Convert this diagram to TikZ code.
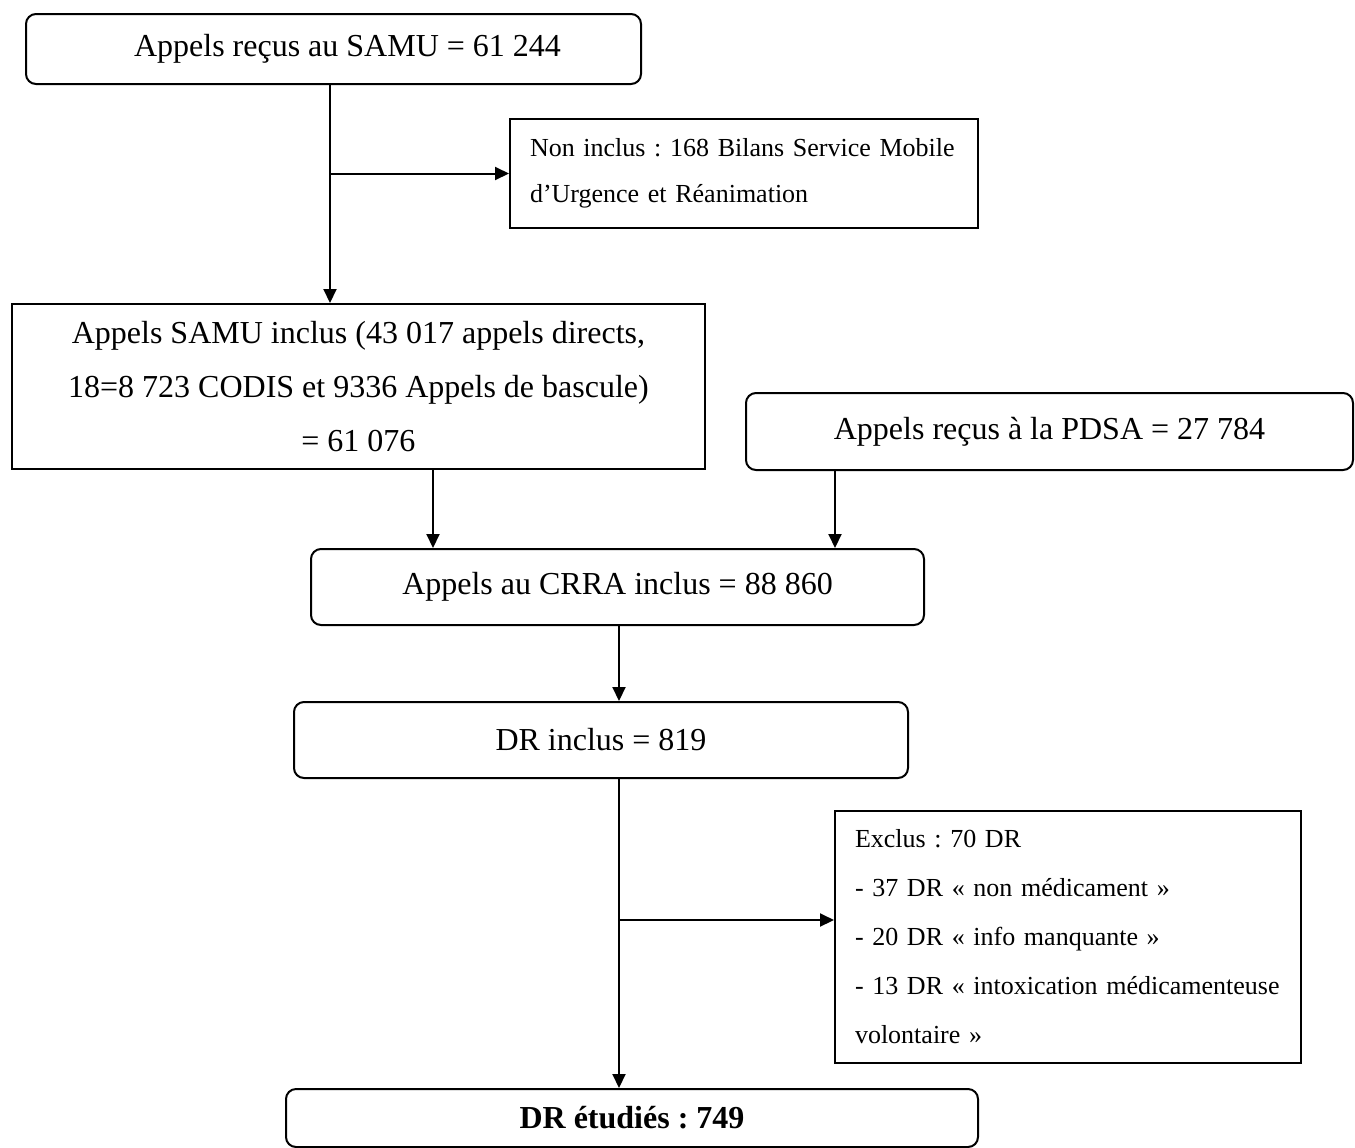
\documentclass[tikz,border=0pt]{standalone}
\usepackage{fontspec}
\setmainfont{Liberation Serif}
\usetikzlibrary{arrows.meta}
\begin{document}
\frenchspacing
\begin{tikzpicture}[x=0.5pt,y=-0.5pt,
  box/.style={draw, line width=1pt, inner sep=0pt, anchor=north west, align=center,
    font=\fontsize{16}{27}\selectfont},
  rbox/.style={box, rounded corners=5pt},
  sidebox/.style={draw, line width=1pt, inner ysep=0pt, inner xsep=10pt, anchor=north west, align=left},
  arr/.style={-{Triangle[length=7pt,width=6.5pt]}, line width=1pt}]
\useasboundingbox (0,0) rectangle (1355,1147);
\fill[white] (0,0) rectangle (1355,1147);

\node[rbox, minimum width=307.5pt, minimum height=35pt] (samu) at (25,13)
  {\hspace*{14pt}Appels reçus au SAMU = 61 244};
\node[sidebox, text width=214pt, minimum height=54.5pt,
  font=\fontsize{13}{23}\selectfont] (nonincl) at (509,118)
  {\mbox{Non inclus : 168 Bilans Service Mobile}\\ d’Urgence et Réanimation};
\node[box, minimum width=346.5pt, minimum height=82.5pt] (samuinc) at (11,303)
  {Appels SAMU inclus (43 017 appels directs,\\ 18=8 723 CODIS et 9336 Appels de bascule)\\ = 61 076};
\node[rbox, minimum width=303.5pt, minimum height=38.5pt] (pdsa) at (745,392)
  {Appels reçus à la PDSA = 27 784};
\node[rbox, minimum width=306.5pt, minimum height=38pt] (crra) at (310,548)
  {Appels au CRRA inclus = 88 860};
\node[rbox, minimum width=307pt, minimum height=38pt] (drinc) at (293,701)
  {DR inclus = 819};
\node[sidebox, text width=213pt, minimum height=126pt,
  font=\fontsize{13}{24.5}\selectfont] (exclus) at (834,810)
  {Exclus : 70 DR\\ - 37 DR « non médicament »\\ - 20 DR « info manquante »\\
   \mbox{- 13 DR « intoxication médicamenteuse}\\ volontaire »};
\node[rbox, minimum width=346pt, minimum height=29pt, font=\fontsize{16}{27}\selectfont\bfseries] (drfin) at (285,1088)
  {DR étudiés : 749};

\coordinate (t1) at ([xshift=-1.75pt]samu.south);
\draw[arr] (t1) -- (t1 |- samuinc.north);
\draw[arr] (t1 |- nonincl.west) -- (nonincl.west);

\coordinate (t2) at ([xshift=37.25pt]samuinc.south);
\draw[arr] (t2) -- (t2 |- crra.north);
\coordinate (t3) at ([xshift=-107.25pt]pdsa.south);
\draw[arr] (t3) -- (t3 |- crra.north);

\coordinate (t4) at ([xshift=0.75pt]crra.south);
\draw[arr] (t4) -- (t4 |- drinc.north);

\coordinate (t5) at (t4 |- drinc.south);
\draw[arr] (t5) -- (t5 |- drfin.north);
\coordinate (exin) at ([yshift=8.5pt]exclus.west);
\draw[arr] (t5 |- exin) -- (exin);
\end{tikzpicture}
\end{document}
